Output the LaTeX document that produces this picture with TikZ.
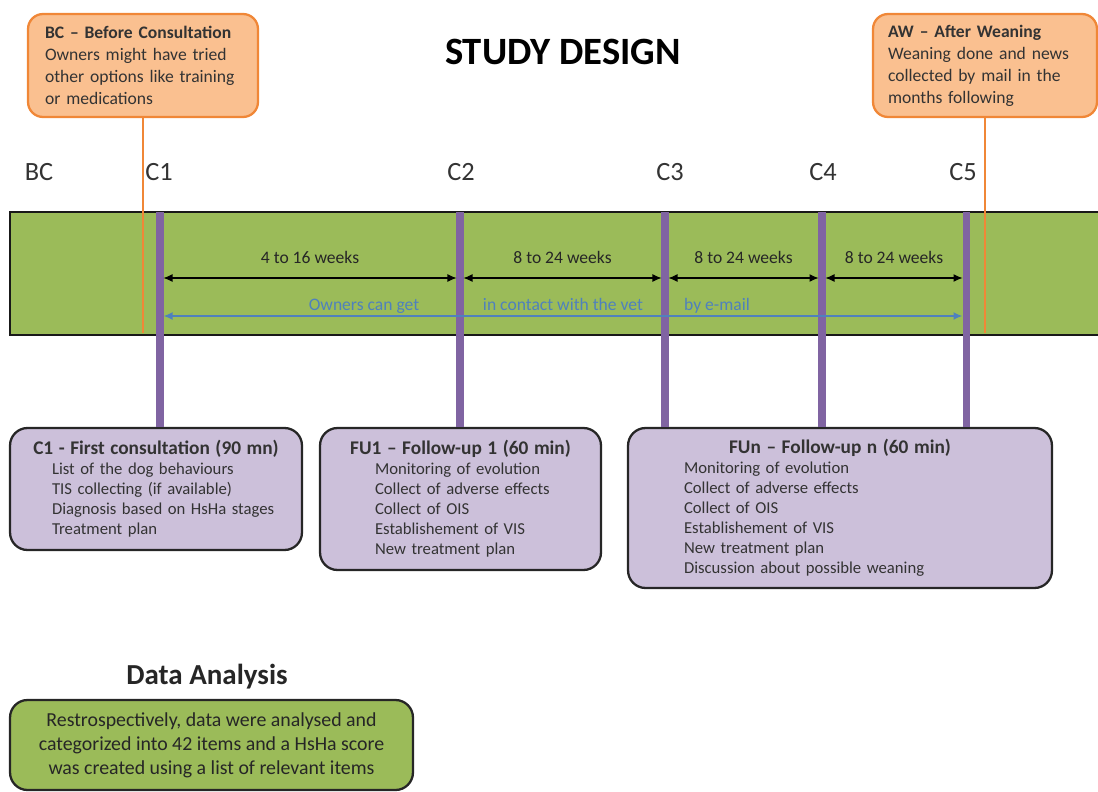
\documentclass[tikz,border=0pt]{standalone}
\usepackage{fontspec}
\setmainfont{Carlito}
\usepackage{xcolor}
\usepackage{tikz}
\usetikzlibrary{arrows.meta}

\definecolor{bandgreen}{RGB}{155,187,89}
\definecolor{visitfill}{RGB}{204,192,218}
\definecolor{visitline}{RGB}{128,100,162}
\definecolor{notefill}{RGB}{250,192,144}
\definecolor{noteline}{RGB}{240,135,55}
\definecolor{mailblue}{RGB}{79,129,189}

\newcommand\visithead[1]{\makebox[\hsize][c]{\fontsize{11}{11.4}\selectfont\bfseries #1}}
\newcommand\visititem[1]{\mbox{#1}}

\begin{document}
\begin{tikzpicture}[
  x=0.02cm, y=-0.02cm,
  note/.style={draw=noteline, fill=notefill, line width=1.3pt, rounded corners=0.3cm, align=left, inner xsep=0pt, minimum height=2.06cm, font=\fontsize{10}{12.5}\selectfont, text=black!80},
  visit/.style={draw=black!85, fill=visitfill, line width=1.3pt, rounded corners=0.35cm, align=left, inner xsep=0pt, font=\fontsize{9.5}{11.4}\selectfont, text=black!80},
  analysis/.style={draw=black!85, fill=bandgreen, line width=1.3pt, rounded corners=0.35cm, align=center, font=\fontsize{11.3}{13.7}\selectfont, text=black!85},
  stamp/.style={font=\fontsize{15}{18}\selectfont, text=black!80},
  band/.style={fill=bandgreen, draw=black!90, line width=1.3pt},
  lead/.style={noteline, line width=1.4pt},
  tick/.style={visitline, line width=4pt},
  span/.style={{Latex[length=1.8mm,width=1.6mm]}-{Latex[length=1.8mm,width=1.6mm]}, line width=0.6pt, shorten <=2pt, shorten >=2pt},
  mail/.style={{Latex[length=1.8mm,width=1.6mm]}-{Latex[length=1.8mm,width=1.6mm]}, mailblue, line width=1pt, shorten <=2pt, shorten >=2pt},
  weeks/.style={midway, yshift=0.42cm, font=\fontsize{10}{12}\selectfont, text=black!85},
  mailtext/.style={anchor=base, font=\fontsize{10}{12}\selectfont, text=mailblue}
]
  \useasboundingbox (0,0) rectangle (1098,791);

  \node[font=\fontsize{22}{26}\selectfont\bfseries] (title) at (563,52) {STUDY DESIGN};

  \node[note, minimum width=4.6cm, text width=3.92cm] (bc) at (143,65.5) {\textbf{BC – Before Consultation}\\Owners might have tried\\other options like training\\or medications};
  \node[note, minimum width=4.48cm, text width=3.88cm] (aw) at (985,65.5) {\textbf{AW – After Weaning}\\Weaning done and news\\collected by mail in the\\months following};

  \node[stamp] (lbc) at (39,172) {BC};
  \node[stamp] (lc1) at (159,172) {C1};
  \node[stamp] (lc2) at (461,172) {C2};
  \node[stamp] (lc3) at (670,172) {C3};
  \node[stamp] (lc4) at (823,172) {C4};
  \node[stamp] (lc5) at (963,172) {C5};

  \draw[band] (10,212) rectangle (1110,335);

  \draw[lead] (bc.south) -- (bc.south |- 0,333);
  \draw[lead] (aw.south) -- (aw.south |- 0,333);

  \node[visit, minimum width=5.84cm, minimum height=2.44cm, text width=4.16cm] (c1box) at (156,489) {\visithead{C1 - First consultation (90 mn)}\\\visititem{List of the dog behaviours}\\\visititem{TIS collecting (if available)}\\\visititem{Diagnosis based on HsHa stages}\\\visititem{Treatment plan}};
  \node[visit, minimum width=5.62cm, minimum height=2.84cm, text width=3.42cm] (fu1box) at (460.5,499) {\visithead{FU1 – Follow-up 1 (60 min)}\\\visititem{Monitoring of evolution}\\\visititem{Collect of adverse effects}\\\visititem{Collect of OIS}\\\visititem{Establishement of VIS}\\\visititem{New treatment plan}};
  \node[visit, minimum width=8.48cm, minimum height=3.2cm, text width=6.24cm] (funbox) at (840,508) {\visithead{FUn – Follow-up n (60 min)}\\\visititem{Monitoring of evolution}\\\visititem{Collect of adverse effects}\\\visititem{Collect of OIS}\\\visititem{Establishement of VIS}\\\visititem{New treatment plan}\\\visititem{Discussion about possible weaning}};

  \foreach \n/\x in {1/160,2/460,3/665,4/822,5/966} {
    \coordinate (v\n) at (\x,212);
    \coordinate (s\n) at (\x,278);
    \coordinate (m\n) at (\x,316);
  }

  \draw[tick] (v1) -- (v1 |- c1box.north);
  \draw[tick] (v2) -- (v2 |- fu1box.north);
  \draw[tick] (v3) -- (v3 |- funbox.north);
  \draw[tick] (v4) -- (v4 |- funbox.north);
  \draw[tick] (v5) -- (v5 |- funbox.north);

  \draw[span] (s1) -- node[weeks] {4 to 16 weeks} (s2);
  \draw[span] (s2) -- node[weeks] {8 to 24 weeks} (s3);
  \draw[span] (s3) -- node[weeks] {8 to 24 weeks} (s4);
  \draw[span] (s4) -- node[weeks] {8 to 24 weeks} (s5);

  \draw[mail] (m1) -- (m5);
  \node[mailtext] (mt1) at (364,310) {Owners can get};
  \node[mailtext] (mt2) at (563,310) {in contact with the vet};
  \node[mailtext] (mt3) at (717,310) {by e-mail};

  \node[font=\fontsize{16.5}{20}\selectfont\bfseries, text=black!85] (datitle) at (207,677) {Data Analysis};
  \node[analysis, minimum width=8.06cm, minimum height=1.8cm] (dabox) at (211.5,745) {Restrospectively, data were analysed and\\categorized into 42 items and a HsHa score\\was created using a list of relevant items};
\end{tikzpicture}
\end{document}
